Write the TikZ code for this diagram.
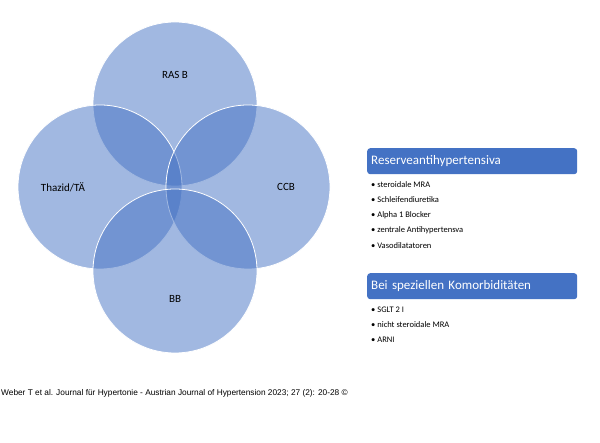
\documentclass[tikz,border=0pt]{standalone}
\usepackage{fontspec}
\setmainfont{Carlito}
\newfontfamily\arial{Liberation Sans}
\definecolor{vblue}{HTML}{4472C4}
\begin{document}
\begin{tikzpicture}[x=1pt,y=-1pt,
  venn/.style={fill=vblue,fill opacity=0.5,draw=white,line width=0.8pt},
  lbl/.style={font=\fontsize{11}{13}\selectfont,text=black},
  head/.style={fill=vblue,rounded corners=3pt,minimum width=210pt,minimum height=26pt,anchor=north west,text=white,font=\fontsize{13}{15}\selectfont,text width=202pt,align=left,inner xsep=4pt},
  item/.style={anchor=west,font=\fontsize{8.5}{10}\selectfont,inner sep=0pt}]
\useasboundingbox (0,0) rectangle (600,443);
\fill[white] (0,0) rectangle (600,443);
\draw[venn] (175,104) circle (82);
\draw[venn] (100,187) circle (82);
\draw[venn] (248,187) circle (82);
\draw[venn] (175,271) circle (82);
\node[lbl] (ras) at (175,75) {RAS B};
\node[lbl] (thz) at (63,187) {Thazid/TÄ};
\node[lbl] (ccb) at (286,187) {CCB};
\node[lbl] (bb) at (175,299) {BB};
\node[head] (h1) at (367,148) {Reserveantihypertensiva};
\node[item] (a1) at (371,185) {\textbullet\ steroidale MRA};
\node[item] (a2) at (371,200) {\textbullet\ Schleifendiuretika};
\node[item] (a3) at (371,215) {\textbullet\ Alpha 1 Blocker};
\node[item] (a4) at (371,230) {\textbullet\ zentrale Antihypertensva};
\node[item] (a5) at (371,246) {\textbullet\ Vasodilatatoren};
\node[head] (h2) at (367,273) {Bei speziellen Komorbiditäten};
\node[item] (b1) at (371,310) {\textbullet\ SGLT 2 I};
\node[item] (b2) at (371,325) {\textbullet\ nicht steroidale MRA};
\node[item] (b3) at (371,340) {\textbullet\ ARNI};
\node[anchor=west,inner sep=0pt,font=\arial\fontsize{8.3}{10}\selectfont] (foot) at (1,393) {Weber T et al. Journal für Hypertonie - Austrian Journal of Hypertension 2023; 27 (2): 20-28 \copyright};
\end{tikzpicture}
\end{document}
